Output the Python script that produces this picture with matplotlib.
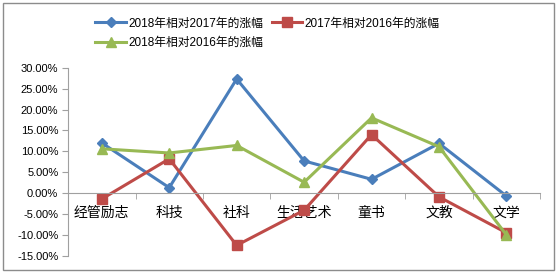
import matplotlib
matplotlib.use('Agg')
import matplotlib.pyplot as plt
from matplotlib.ticker import FuncFormatter, FixedLocator
from matplotlib.patches import Rectangle

plt.rcParams['font.family'] = ['Liberation Sans', 'Noto Sans CJK SC', 'DejaVu Sans']

# 数据
categories = ['经管励志', '科技', '社科', '生活艺术', '童书', '文教', '文学']
rise_2018_vs_2017 = [12.0, 1.3, 27.3, 7.7, 3.3, 11.9, -0.7]
rise_2017_vs_2016 = [-1.4, 8.2, -12.5, -4.1, 14.0, -0.9, -9.5]
rise_2018_vs_2016 = [10.6, 9.6, 11.4, 2.6, 18.0, 11.1, -10.0]
labels = ['2018年相对2017年的涨幅', '2017年相对2016年的涨幅', '2018年相对2016年的涨幅']

fig = plt.figure(figsize=(5.58, 2.73), dpi=100)
ax = fig.add_axes([0.122, 0.063, 0.846, 0.689])

x = list(range(len(categories)))
l1, = ax.plot(x, rise_2018_vs_2017, color='#4A7EBB', lw=2.2, marker='D', ms=5.5, label=labels[0])
l2, = ax.plot(x, rise_2017_vs_2016, color='#BE4B48', lw=2.2, marker='s', ms=6.5, label=labels[1])
l3, = ax.plot(x, rise_2018_vs_2016, color='#98B954', lw=2.2, marker='^', ms=7, label=labels[2])

ax.set_xlim(-0.5, len(categories) - 0.5)
ax.set_ylim(-15, 30)
ax.set_yticks(range(-15, 31, 5))
ax.yaxis.set_major_formatter(FuncFormatter(lambda v, p: '%.2f%%' % v))

ax.set_xticks(x)
ax.set_xticklabels(categories, fontsize=8.5)
ax.xaxis.set_minor_locator(FixedLocator([i - 0.5 for i in range(len(categories) + 1)]))
ax.tick_params(axis='x', which='major', length=0, pad=9)
ax.tick_params(axis='x', which='minor', length=4, color='#A0A0A0', direction='out')
ax.tick_params(axis='y', length=4, color='#A0A0A0', labelsize=8, pad=3)

ax.spines['top'].set_visible(False)
ax.spines['right'].set_visible(False)
ax.spines['bottom'].set_position(('data', 0))
ax.spines['bottom'].set_color('#A0A0A0')
ax.spines['left'].set_color('#A0A0A0')

# 图例按列填充，调整顺序使第一行为蓝、红
handles = [l1, l3, l2]
fig.legend(handles, [h.get_label() for h in handles], loc='upper left',
           bbox_to_anchor=(0.152, 0.975), ncol=2,
           frameon=False, fontsize=8.5, handlelength=2.6, columnspacing=0.7,
           labelspacing=0.65, handletextpad=0.2)

fig.patches.append(Rectangle((0.005, 0.01), 0.988, 0.98, transform=fig.transFigure,
                             fill=False, edgecolor='#8C8C8C', lw=1))

fig.savefig('out.png', dpi=100)
